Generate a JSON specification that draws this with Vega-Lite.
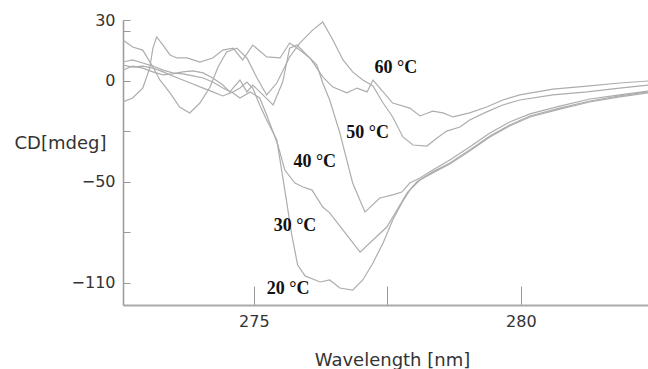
{
  "$schema": "https://vega.github.io/schema/vega-lite/v6.json",
  "width": 525,
  "height": 285,
  "autosize": {"type": "none"},
  "padding": {"left": 123, "top": 20, "right": 0, "bottom": 64},
  "background": "white",
  "config": {"view": {"stroke": null}},
  "datasets": {
    "curves": [
      {"T": "60", "nm": 272.55, "cd": -10.4}, {"T": "60", "nm": 272.73, "cd": -8.4}, {"T": "60", "nm": 272.92, "cd": -3.5}, {"T": "60", "nm": 273.05, "cd": 6.4}, {"T": "60", "nm": 273.11, "cd": 16.3}, {"T": "60", "nm": 273.18, "cd": 21.8}, {"T": "60", "nm": 273.30, "cd": 17.8}, {"T": "60", "nm": 273.43, "cd": 12.9}, {"T": "60", "nm": 273.56, "cd": 11.4}, {"T": "60", "nm": 273.75, "cd": 11.4}, {"T": "60", "nm": 273.99, "cd": 9.4}, {"T": "60", "nm": 274.23, "cd": 11.4}, {"T": "60", "nm": 274.42, "cd": 15.3}, {"T": "60", "nm": 274.61, "cd": 16.3}, {"T": "60", "nm": 274.79, "cd": 10.4}, {"T": "60", "nm": 274.98, "cd": 17.8}, {"T": "60", "nm": 275.24, "cd": 11.9}, {"T": "60", "nm": 275.49, "cd": 11.4}, {"T": "60", "nm": 275.67, "cd": 18.8}, {"T": "60", "nm": 275.86, "cd": 15.3}, {"T": "60", "nm": 276.05, "cd": 11.4}, {"T": "60", "nm": 276.29, "cd": 2.0}, {"T": "60", "nm": 276.48, "cd": -3.0}, {"T": "60", "nm": 276.74, "cd": -5.9}, {"T": "60", "nm": 276.93, "cd": -3.5}, {"T": "60", "nm": 277.12, "cd": -5.4}, {"T": "60", "nm": 277.23, "cd": 0.5}, {"T": "60", "nm": 277.36, "cd": -3.5}, {"T": "60", "nm": 277.60, "cd": -10.9}, {"T": "60", "nm": 277.92, "cd": -13.4}, {"T": "60", "nm": 278.11, "cd": -17.3}, {"T": "60", "nm": 278.35, "cd": -14.9}, {"T": "60", "nm": 278.54, "cd": -15.8}, {"T": "60", "nm": 278.73, "cd": -17.8}, {"T": "60", "nm": 279.04, "cd": -15.8}, {"T": "60", "nm": 279.36, "cd": -12.9}, {"T": "60", "nm": 279.66, "cd": -9.4}, {"T": "60", "nm": 279.98, "cd": -6.9}, {"T": "60", "nm": 280.30, "cd": -5.4}, {"T": "60", "nm": 280.60, "cd": -4.0}, {"T": "60", "nm": 281.24, "cd": -2.5}, {"T": "60", "nm": 281.85, "cd": -1.0}, {"T": "60", "nm": 282.38, "cd": 0},
      {"T": "50", "nm": 272.55, "cd": 20.3}, {"T": "50", "nm": 272.73, "cd": 16.8}, {"T": "50", "nm": 272.92, "cd": 15.3}, {"T": "50", "nm": 273.11, "cd": 6.9}, {"T": "50", "nm": 273.24, "cd": 0.5}, {"T": "50", "nm": 273.43, "cd": -5.9}, {"T": "50", "nm": 273.61, "cd": -12.9}, {"T": "50", "nm": 273.80, "cd": -15.8}, {"T": "50", "nm": 273.99, "cd": -10.9}, {"T": "50", "nm": 274.18, "cd": -3.0}, {"T": "50", "nm": 274.33, "cd": 6.9}, {"T": "50", "nm": 274.49, "cd": 14.4}, {"T": "50", "nm": 274.68, "cd": 16.3}, {"T": "50", "nm": 274.87, "cd": 11.4}, {"T": "50", "nm": 275.06, "cd": 1.5}, {"T": "50", "nm": 275.24, "cd": -6.9}, {"T": "50", "nm": 275.43, "cd": -1.0}, {"T": "50", "nm": 275.67, "cd": 11.9}, {"T": "50", "nm": 275.86, "cd": 18.8}, {"T": "50", "nm": 276.10, "cd": 25.2}, {"T": "50", "nm": 276.29, "cd": 29.2}, {"T": "50", "nm": 276.48, "cd": 20.3}, {"T": "50", "nm": 276.67, "cd": 10.4}, {"T": "50", "nm": 276.85, "cd": 4.5}, {"T": "50", "nm": 277.04, "cd": 0.5}, {"T": "50", "nm": 277.23, "cd": -2.5}, {"T": "50", "nm": 277.42, "cd": -10.9}, {"T": "50", "nm": 277.60, "cd": -17.8}, {"T": "50", "nm": 277.79, "cd": -27.7}, {"T": "50", "nm": 277.98, "cd": -31.7}, {"T": "50", "nm": 278.24, "cd": -32.2}, {"T": "50", "nm": 278.43, "cd": -28.2}, {"T": "50", "nm": 278.61, "cd": -24.8}, {"T": "50", "nm": 278.86, "cd": -22.8}, {"T": "50", "nm": 279.04, "cd": -19.3}, {"T": "50", "nm": 279.36, "cd": -15.3}, {"T": "50", "nm": 279.66, "cd": -11.9}, {"T": "50", "nm": 279.98, "cd": -9.4}, {"T": "50", "nm": 280.60, "cd": -6.9}, {"T": "50", "nm": 281.24, "cd": -5.4}, {"T": "50", "nm": 281.85, "cd": -3.5}, {"T": "50", "nm": 282.38, "cd": -2.0},
      {"T": "40", "nm": 272.55, "cd": 5.4}, {"T": "40", "nm": 272.73, "cd": 7.4}, {"T": "40", "nm": 272.92, "cd": 6.4}, {"T": "40", "nm": 273.11, "cd": 4.5}, {"T": "40", "nm": 273.30, "cd": 3.0}, {"T": "40", "nm": 273.48, "cd": 3.5}, {"T": "40", "nm": 273.67, "cd": 4.5}, {"T": "40", "nm": 273.86, "cd": 5.0}, {"T": "40", "nm": 274.05, "cd": 4.0}, {"T": "40", "nm": 274.23, "cd": 1.5}, {"T": "40", "nm": 274.42, "cd": -2.0}, {"T": "40", "nm": 274.55, "cd": -5.4}, {"T": "40", "nm": 274.74, "cd": 0.5}, {"T": "40", "nm": 274.87, "cd": -5.4}, {"T": "40", "nm": 274.98, "cd": -2.0}, {"T": "40", "nm": 275.17, "cd": -6.9}, {"T": "40", "nm": 275.36, "cd": -11.9}, {"T": "40", "nm": 275.54, "cd": -0.5}, {"T": "40", "nm": 275.67, "cd": 16.3}, {"T": "40", "nm": 275.81, "cd": 17.8}, {"T": "40", "nm": 275.99, "cd": 12.9}, {"T": "40", "nm": 276.18, "cd": 7.9}, {"T": "40", "nm": 276.29, "cd": -1.0}, {"T": "40", "nm": 276.42, "cd": -9.4}, {"T": "40", "nm": 276.61, "cd": -25.7}, {"T": "40", "nm": 276.85, "cd": -50.5}, {"T": "40", "nm": 277.08, "cd": -64.9}, {"T": "40", "nm": 277.36, "cd": -57.9}, {"T": "40", "nm": 277.60, "cd": -56.4}, {"T": "40", "nm": 277.77, "cd": -55.0}, {"T": "40", "nm": 277.92, "cd": -50.5}, {"T": "40", "nm": 278.11, "cd": -48.0}, {"T": "40", "nm": 278.35, "cd": -44.1}, {"T": "40", "nm": 278.67, "cd": -39.1}, {"T": "40", "nm": 279.04, "cd": -32.7}, {"T": "40", "nm": 279.42, "cd": -25.7}, {"T": "40", "nm": 279.79, "cd": -20.3}, {"T": "40", "nm": 280.17, "cd": -16.3}, {"T": "40", "nm": 280.73, "cd": -12.4}, {"T": "40", "nm": 281.29, "cd": -8.9}, {"T": "40", "nm": 281.85, "cd": -6.9}, {"T": "40", "nm": 282.38, "cd": -5.0},
      {"T": "30", "nm": 272.55, "cd": 9.4}, {"T": "30", "nm": 272.73, "cd": 10.4}, {"T": "30", "nm": 272.92, "cd": 8.9}, {"T": "30", "nm": 273.11, "cd": 7.4}, {"T": "30", "nm": 273.30, "cd": 5.4}, {"T": "30", "nm": 273.48, "cd": 4.0}, {"T": "30", "nm": 273.67, "cd": 3.5}, {"T": "30", "nm": 273.86, "cd": 2.5}, {"T": "30", "nm": 274.05, "cd": 1.5}, {"T": "30", "nm": 274.23, "cd": -0.5}, {"T": "30", "nm": 274.42, "cd": -3.5}, {"T": "30", "nm": 274.61, "cd": -5.9}, {"T": "30", "nm": 274.74, "cd": -8.4}, {"T": "30", "nm": 274.93, "cd": -5.4}, {"T": "30", "nm": 275.11, "cd": -8.4}, {"T": "30", "nm": 275.24, "cd": -16.8}, {"T": "30", "nm": 275.36, "cd": -25.2}, {"T": "30", "nm": 275.45, "cd": -31.7}, {"T": "30", "nm": 275.58, "cd": -44.1}, {"T": "30", "nm": 275.77, "cd": -50.5}, {"T": "30", "nm": 275.92, "cd": -52.5}, {"T": "30", "nm": 276.09, "cd": -54.0}, {"T": "30", "nm": 276.29, "cd": -62.4}, {"T": "30", "nm": 276.42, "cd": -65.3}, {"T": "30", "nm": 276.67, "cd": -73.8}, {"T": "30", "nm": 276.99, "cd": -84.7}, {"T": "30", "nm": 277.23, "cd": -78.7}, {"T": "30", "nm": 277.49, "cd": -72.3}, {"T": "30", "nm": 277.68, "cd": -63.9}, {"T": "30", "nm": 277.87, "cd": -55.4}, {"T": "30", "nm": 278.05, "cd": -50.0}, {"T": "30", "nm": 278.35, "cd": -45.0}, {"T": "30", "nm": 278.67, "cd": -40.6}, {"T": "30", "nm": 279.04, "cd": -34.2}, {"T": "30", "nm": 279.42, "cd": -27.2}, {"T": "30", "nm": 279.79, "cd": -21.8}, {"T": "30", "nm": 280.17, "cd": -17.3}, {"T": "30", "nm": 280.73, "cd": -13.4}, {"T": "30", "nm": 281.29, "cd": -9.9}, {"T": "30", "nm": 281.85, "cd": -7.4}, {"T": "30", "nm": 282.38, "cd": -5.4},
      {"T": "20", "nm": 272.55, "cd": 7.9}, {"T": "20", "nm": 272.73, "cd": 6.9}, {"T": "20", "nm": 272.92, "cd": 7.4}, {"T": "20", "nm": 273.11, "cd": 6.4}, {"T": "20", "nm": 273.30, "cd": 4.5}, {"T": "20", "nm": 273.48, "cd": 2.5}, {"T": "20", "nm": 273.67, "cd": 0.5}, {"T": "20", "nm": 273.86, "cd": -1.5}, {"T": "20", "nm": 274.05, "cd": -3.5}, {"T": "20", "nm": 274.23, "cd": -5.4}, {"T": "20", "nm": 274.42, "cd": -7.4}, {"T": "20", "nm": 274.61, "cd": -5.4}, {"T": "20", "nm": 274.74, "cd": -3.5}, {"T": "20", "nm": 274.87, "cd": -0.5}, {"T": "20", "nm": 274.98, "cd": -3.5}, {"T": "20", "nm": 275.11, "cd": -11.9}, {"T": "20", "nm": 275.24, "cd": -19.3}, {"T": "20", "nm": 275.43, "cd": -29.2}, {"T": "20", "nm": 275.58, "cd": -54.0}, {"T": "20", "nm": 275.71, "cd": -76.2}, {"T": "20", "nm": 275.82, "cd": -91.1}, {"T": "20", "nm": 275.96, "cd": -96.5}, {"T": "20", "nm": 276.24, "cd": -99.5}, {"T": "20", "nm": 276.42, "cd": -98.5}, {"T": "20", "nm": 276.61, "cd": -102.5}, {"T": "20", "nm": 276.85, "cd": -103.5}, {"T": "20", "nm": 277.04, "cd": -98.5}, {"T": "20", "nm": 277.23, "cd": -90.1}, {"T": "20", "nm": 277.42, "cd": -80.2}, {"T": "20", "nm": 277.60, "cd": -68.8}, {"T": "20", "nm": 277.77, "cd": -60.4}, {"T": "20", "nm": 277.92, "cd": -54.0}, {"T": "20", "nm": 278.11, "cd": -49.0}, {"T": "20", "nm": 278.35, "cd": -45.5}, {"T": "20", "nm": 278.67, "cd": -41.1}, {"T": "20", "nm": 279.04, "cd": -34.7}, {"T": "20", "nm": 279.42, "cd": -27.7}, {"T": "20", "nm": 279.79, "cd": -22.3}, {"T": "20", "nm": 280.17, "cd": -17.8}, {"T": "20", "nm": 280.73, "cd": -13.9}, {"T": "20", "nm": 281.29, "cd": -10.4}, {"T": "20", "nm": 281.85, "cd": -7.9}, {"T": "20", "nm": 282.38, "cd": -5.9}
    ],
    "labels": [
      {"label": "60 °C", "nm": 277.66, "cd": 6.4},
      {"label": "50 °C", "nm": 277.13, "cd": -25.5},
      {"label": "40 °C", "nm": 276.14, "cd": -40.3},
      {"label": "30 °C", "nm": 275.77, "cd": -71.8},
      {"label": "20 °C", "nm": 275.64, "cd": -103.2}
    ]
  },
  "layer": [
    {
      "data": {"name": "curves"},
      "mark": {"type": "line", "stroke": "#adadad", "strokeWidth": 1.2, "clip": true},
      "encoding": {
        "x": {
          "field": "nm", "type": "quantitative",
          "scale": {"domain": [272.55, 282.38], "nice": false, "zero": false},
          "axis": {
            "values": [275, 277.5, 280],
            "format": "d",
            "labelExpr": "datum.value == 277.5 ? '' : datum.label",
            "tickSize": -19,
            "tickColor": "#999",
            "tickWidth": 1,
            "domainColor": "#aaa",
            "domainWidth": 2,
            "grid": false,
            "labelFont": "DejaVu Sans",
            "labelFontSize": 16,
            "labelColor": "#333",
            "labelPadding": 27,
            "title": "Wavelength [nm]",
            "titleFont": "DejaVu Sans",
            "titleFontSize": 18,
            "titleFontWeight": "normal",
            "titleColor": "#333",
            "titleX": 269,
            "titleY": 55,
            "titleAlign": "center",
            "titleBaseline": "middle"
          }
        },
        "y": {
          "field": "cd", "type": "quantitative",
          "scale": {"domain": [-110.9, 30.2], "nice": false, "zero": false},
          "axis": {
            "values": [30, 25, 0, -25, -50, -75, -100],
            "labelExpr": "datum.value == 30 ? '30' : datum.value == 0 ? '0' : datum.value == -50 ? '−50' : datum.value == -100 ? '−110' : ''",
            "tickSize": -7,
            "tickColor": "#999",
            "domainColor": "#999",
            "domainWidth": 1.5,
            "grid": false,
            "labelFont": "DejaVu Sans",
            "labelFontSize": 16,
            "labelColor": "#333",
            "labelPadding": 15,
            "title": "CD[mdeg]",
            "titleFont": "DejaVu Sans",
            "titleFontSize": 18,
            "titleFontWeight": "normal",
            "titleColor": "#333",
            "titleAngle": 0,
            "titleX": -63,
            "titleY": 123,
            "titleAlign": "center",
            "titleBaseline": "middle"
          }
        },
        "detail": {"field": "T", "type": "nominal"}
      }
    },
    {
      "mark": {"type": "rule", "stroke": "#8a8a8a", "strokeWidth": 1.3},
      "encoding": {"y": {"datum": 0}}
    },
    {
      "mark": {"type": "rule", "stroke": "#cfcfcf", "strokeWidth": 2.5},
      "encoding": {"y": {"datum": 30.2}}
    },
    {
      "data": {"name": "labels"},
      "mark": {"type": "text", "font": "Liberation Serif", "fontWeight": "bold", "fontSize": 18, "fill": "#111", "align": "center", "baseline": "middle"},
      "encoding": {
        "x": {"field": "nm", "type": "quantitative"},
        "y": {"field": "cd", "type": "quantitative"},
        "text": {"field": "label"}
      }
    }
  ]
}
